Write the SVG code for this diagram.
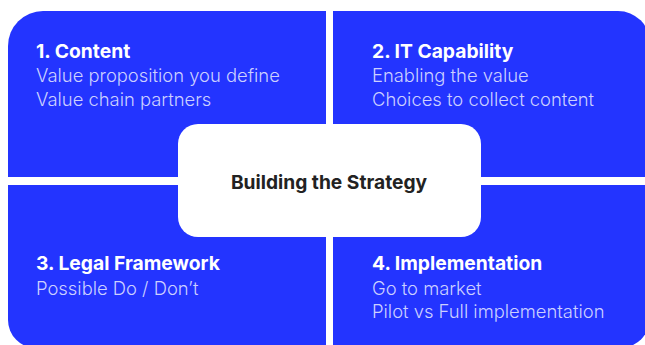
<svg xmlns="http://www.w3.org/2000/svg" width="645" height="345" viewBox="0 0 645 345">
<style>
.q{fill:#2334FF}
.t{font-family:Inter,"Noto Sans",sans-serif;font-size:19.3px;font-weight:700;fill:#ffffff}
.s{font-family:Inter,"Noto Sans",sans-serif;font-size:18.4px;font-weight:300;fill:#ccd0ff}
.c{font-family:Inter,"Noto Sans",sans-serif;font-size:19.2px;font-weight:700;fill:#222222}
</style>
<rect width="645" height="345" fill="#ffffff"/>
<g id="content">
<path class="q" d="M8,46 A35,35 0 0 1 43,11 H326 V177 H8 Z"/>
<text class="t" x="36" y="58">1. Content</text>
<text class="s" x="36" y="82">Value proposition you define</text>
<text class="s" x="36" y="106">Value chain partners</text>
</g>
<g id="it-capability">
<path class="q" d="M333,11 H618 A32,32 0 0 1 650,43 V177 H333 Z"/>
<text class="t" x="372" y="58">2. IT Capability</text>
<text class="s" x="372" y="82">Enabling the value</text>
<text class="s" x="372" y="106">Choices to collect content</text>
</g>
<g id="legal-framework">
<path class="q" d="M8,185 H326 V348 H36 A28,28 0 0 1 8,320 Z"/>
<text class="t" x="36" y="270">3. Legal Framework</text>
<text class="s" x="36" y="295">Possible Do / Don’t</text>
</g>
<g id="implementation">
<path class="q" d="M333,185 H650 V318 A30,30 0 0 1 620,348 H333 Z"/>
<text class="t" x="372" y="270">4. Implementation</text>
<text class="s" x="372" y="295">Go to market</text>
<text class="s" x="372" y="318">Pilot vs Full implementation</text>
</g>
<g id="center">
<rect x="178" y="124" width="303" height="113" rx="20" fill="#ffffff"/>
<text class="c" x="329" y="189" text-anchor="middle">Building the Strategy</text>
</g>
<g id="connectors"/>
</svg>
